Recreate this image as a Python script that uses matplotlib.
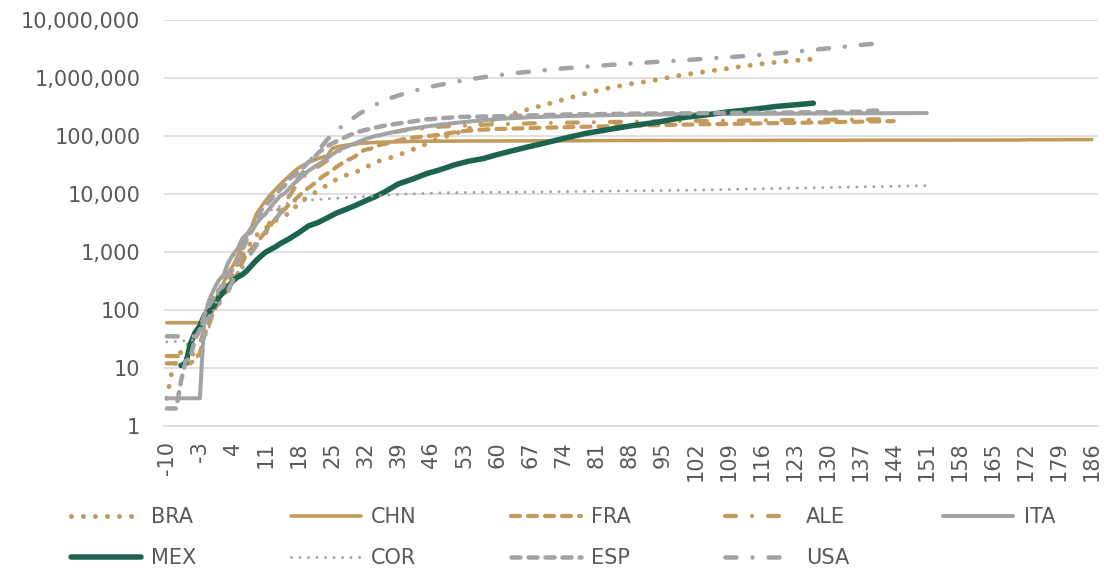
import matplotlib
matplotlib.use("Agg")
import matplotlib.pyplot as plt
from matplotlib.ticker import FixedLocator, NullLocator

plt.rcParams['font.family'] = ['DejaVu Sans']
plt.rcParams['lines.scale_dashes'] = False

# ---------------- data: (day, cumulative cases) ----------------
BRA = [(-10, 3), (-9, 8), (-8, 13), (-7, 19), (-6, 25), (-5, 25), (-4, 34), (-3, 52), (-2, 77), (-1, 98),
       (0, 121), (1, 200), (2, 234), (3, 291), (4, 428), (5, 621), (6, 904), (7, 1128), (8, 1546), (9, 1924),
       (10, 2247), (11, 2554), (12, 2985), (13, 3417), (14, 3904), (15, 4256), (16, 4579), (17, 5717),
       (18, 6836), (20, 9056), (22, 11130), (25, 15927), (27, 19638), (30, 23430), (32, 28320), (35, 36599),
       (38, 43079), (41, 52995), (44, 66501), (47, 85380), (52, 114715), (57, 162699), (62, 218223),
       (67, 291579), (72, 374898), (78, 514849), (83, 645771), (88, 772416), (93, 888271), (98, 1067579),
       (103, 1228114), (108, 1402041), (113, 1603055), (118, 1800827), (123, 1966748), (128, 2118646)]

CHN = [(-10, 60), (-3, 60), (-1, 62), (0, 121), (1, 198), (2, 291), (3, 440), (4, 571), (5, 830), (6, 1287),
       (7, 1975), (8, 2744), (9, 4515), (10, 5974), (11, 7711), (12, 9692), (13, 11791), (14, 14380),
       (15, 17205), (16, 20438), (17, 24324), (18, 28018), (19, 31161), (20, 34546), (21, 37198), (22, 40171),
       (23, 42638), (24, 44653), (25, 59804), (26, 63851), (27, 66492), (28, 68500), (29, 70548), (30, 72436),
       (31, 74185), (32, 74576), (33, 75465), (35, 76936), (38, 78064), (43, 79968), (52, 80778), (73, 81554),
       (90, 82692), (120, 83000), (150, 83600), (170, 84000), (173, 85000), (186, 85500)]

FRA = [(-10, 12), (-5, 12), (-4, 14), (-3, 18), (-2, 38), (-1, 57), (0, 100), (1, 130), (2, 191), (3, 212),
       (4, 285), (5, 423), (6, 653), (7, 949), (8, 1126), (9, 1412), (10, 1784), (11, 2281), (12, 2876),
       (13, 3661), (14, 4499), (15, 5423), (16, 6633), (17, 7730), (18, 9134), (19, 10995), (20, 12612),
       (21, 14459), (22, 16689), (23, 19856), (24, 22304), (25, 25233), (26, 29155), (27, 32964), (28, 37575),
       (29, 40174), (30, 44550), (31, 52128), (32, 56989), (33, 59105), (35, 68605), (37, 74390), (39, 82048),
       (41, 90276), (44, 96000), (48, 104000), (52, 118000), (56, 126000), (60, 130000), (70, 137000),
       (80, 143000), (90, 149000), (100, 155000), (115, 162000), (130, 170000), (144, 178000)]

ALE = [(-10, 16), (-5, 16), (-4, 18), (-3, 26), (-2, 48), (-1, 79), (0, 130), (1, 159), (2, 196), (3, 262),
       (4, 482), (5, 670), (6, 799), (7, 1040), (8, 1176), (9, 1457), (10, 1908), (11, 2078), (12, 3675),
       (13, 4585), (14, 5795), (15, 7272), (16, 9257), (17, 12327), (18, 15320), (19, 19848), (20, 22213),
       (21, 24873), (22, 29056), (23, 32986), (24, 37323), (25, 43938), (26, 50871), (27, 57695), (28, 62095),
       (29, 66885), (30, 71808), (32, 84794), (34, 96092), (36, 103375), (38, 113296), (40, 122171),
       (43, 130072), (48, 143342), (55, 152000), (61, 158000), (70, 165000), (80, 170000), (92, 175000),
       (106, 180000), (122, 185000), (137, 190000), (144, 192000)]

ITA = [(-10, 3), (-3, 3), (-2, 79), (-1, 150), (0, 229), (1, 322), (2, 400), (3, 650), (4, 888), (5, 1128),
       (6, 1694), (7, 2036), (8, 2502), (9, 3089), (10, 3858), (11, 4636), (12, 5883), (13, 7375), (14, 9172),
       (15, 10149), (16, 12462), (17, 15113), (18, 17660), (19, 21157), (20, 24747), (21, 27980), (22, 31506),
       (23, 35713), (24, 41035), (25, 47021), (26, 53578), (27, 59138), (28, 63927), (29, 69176), (30, 74386),
       (31, 80589), (32, 86498), (33, 92472), (34, 97689), (35, 101739), (37, 110574), (41, 128948),
       (46, 147577), (51, 165155), (56, 181228), (61, 195351), (67, 207428), (76, 218268), (86, 227364),
       (98, 233197), (112, 237290), (128, 240760), (142, 243506), (151, 245032)]

MEX = [(-7, 11), (-6, 12), (-5, 26), (-4, 41), (-3, 53), (-2, 82), (-1, 93), (0, 118), (1, 164), (2, 203),
       (3, 251), (4, 316), (5, 367), (6, 405), (7, 475), (8, 585), (9, 717), (10, 848), (11, 993), (12, 1094),
       (13, 1215), (14, 1378), (16, 1688), (18, 2143), (20, 2785), (22, 3181), (24, 3844), (26, 4661),
       (28, 5399), (30, 6297), (32, 7497), (34, 8772), (36, 10544), (39, 14677), (42, 17799), (45, 22088),
       (48, 26025), (51, 31522), (54, 36327), (57, 40186), (60, 47144), (63, 54346), (66, 62527), (69, 71105),
       (72, 81400), (75, 93435), (79, 110026), (84, 129184), (89, 150264), (94, 170485), (99, 202951),
       (104, 226089), (109, 256848), (114, 282283), (119, 317635), (124, 344224), (127, 362274)]

COR = [(-10, 28), (-2, 31), (-1, 51), (0, 104), (1, 204), (2, 433), (3, 602), (4, 833), (5, 977), (6, 1261),
       (7, 1766), (8, 2337), (9, 3150), (10, 3736), (11, 4335), (12, 5186), (13, 5621), (14, 6088), (15, 6593),
       (16, 7041), (17, 7313), (18, 7478), (19, 7513), (21, 7869), (24, 8162), (29, 8652), (34, 9137),
       (41, 9887), (50, 10450), (70, 10774), (101, 11503), (131, 12850), (151, 13771)]

ESP = [(-10, 2), (-8, 2), (-7, 6), (-6, 13), (-5, 15), (-4, 32), (-3, 45), (-2, 84), (-1, 120), (0, 165),
       (1, 222), (2, 259), (3, 400), (4, 500), (5, 673), (6, 1073), (7, 1695), (8, 2277), (9, 3146), (10, 5232),
       (11, 6391), (12, 7798), (13, 9942), (14, 11748), (15, 13910), (16, 17963), (17, 20410), (18, 25374),
       (19, 28768), (20, 35136), (21, 39885), (22, 49515), (23, 57786), (24, 65719), (25, 73235), (26, 80110),
       (27, 87956), (28, 95923), (29, 104118), (31, 119199), (33, 130759), (36, 148220), (40, 166019),
       (45, 190839), (52, 210000), (60, 215216), (74, 230183), (90, 239429), (105, 244109), (120, 249271),
       (130, 253908), (137, 258000), (139, 268000), (141, 272000)]

USA = [(-10, 35), (-4, 35), (-3, 53), (-2, 60), (-1, 75), (0, 100), (1, 124), (2, 158), (3, 221), (4, 319),
       (5, 435), (6, 541), (7, 704), (8, 994), (9, 1301), (10, 1630), (11, 2183), (12, 2770), (13, 3613),
       (14, 4596), (15, 6344), (16, 9197), (17, 13779), (18, 19367), (19, 24192), (20, 33592), (21, 43781),
       (22, 54856), (23, 68211), (24, 85435), (25, 104126), (26, 123578), (27, 142460), (28, 163788),
       (29, 188461), (31, 244000), (34, 337000), (37, 432000), (41, 555000), (46, 700000), (53, 905000),
       (57, 1010000), (64, 1200000), (74, 1440000), (86, 1700000), (100, 2000000), (115, 2420000),
       (125, 2890000), (135, 3500000), (142, 4000000)]

SERIES = ["BRA", "CHN", "FRA", "ALE", "ITA", "MEX", "COR", "ESP", "USA"]
SERIES_DATA = [BRA, CHN, FRA, ALE, ITA, MEX, COR, ESP, USA]
X_TICKS = list(range(-10, 187, 7))
Y_TICKS = [1, 10, 100, 1000, 10000, 100000, 1000000, 10000000]

# ---------------- styles ----------------
TAN = "#C39A5C"
GRAY = "#A3A3A3"
GREEN = "#1C6450"
PX = 0.72  # pixels -> points at dpi 100


def dpx(*vals):
    return tuple(v * PX for v in vals)


STYLES = {
    "BRA": dict(color=TAN, lw=5.0 * PX, dashes=dpx(0.01, 12), dash_capstyle="round"),
    "CHN": dict(color=TAN, lw=3.6 * PX, ls="-", solid_capstyle="round"),
    "FRA": dict(color=TAN, lw=4.2 * PX, dashes=dpx(9, 8), dash_capstyle="round"),
    "ALE": dict(color=TAN, lw=4.2 * PX, dashes=dpx(11, 16, 0.01, 16), dash_capstyle="round"),
    "ITA": dict(color=GRAY, lw=4.0 * PX, ls="-", solid_capstyle="round"),
    "MEX": dict(color=GREEN, lw=5.5 * PX, ls="-", solid_capstyle="round"),
    "COR": dict(color=GRAY, lw=3.0 * PX, dashes=dpx(0.01, 8.5), dash_capstyle="round"),
    "ESP": dict(color=GRAY, lw=4.5 * PX, dashes=dpx(9, 8), dash_capstyle="round"),
    "USA": dict(color=GRAY, lw=4.5 * PX, dashes=dpx(11, 16, 0.01, 16), dash_capstyle="round"),
}

W, H = 1104, 569
fig = plt.figure(figsize=(W / 100, H / 100), dpi=100)
ax = fig.add_axes([164 / W, 1 - 426 / H, (1098 - 164) / W, (426 - 19.5) / H])

TEXT_COLOR = "#595959"
GRID_COLOR = "#D9D9D9"
FS = 15

handles = {}
for name, data in zip(SERIES, SERIES_DATA):
    days = [d for d, v in data]
    vals = [v for d, v in data]
    (ln,) = ax.plot(days, vals, label=name, solid_joinstyle="round", **STYLES[name])
    handles[name] = ln

ax.set_yscale("log")
ax.set_ylim(1, 1e7)
ax.set_xlim(-10.6, 187.3)

ax.yaxis.set_major_locator(FixedLocator(Y_TICKS))
ax.yaxis.set_minor_locator(NullLocator())
ax.set_yticklabels([f"{v:,}" for v in Y_TICKS])
ax.xaxis.set_major_locator(FixedLocator(X_TICKS))
ax.xaxis.set_minor_locator(NullLocator())
ax.set_xticklabels([str(t) for t in X_TICKS], rotation=90)

ax.tick_params(axis="y", length=0, pad=17, labelsize=FS, labelcolor=TEXT_COLOR)
ax.tick_params(axis="x", length=0, pad=11, labelsize=FS, labelcolor=TEXT_COLOR)

ax.grid(axis="y", color=GRID_COLOR, lw=1.6 * PX)
ax.set_axisbelow(True)
for s in ["top", "right", "left"]:
    ax.spines[s].set_visible(False)
ax.spines["bottom"].set_color(GRID_COLOR)
ax.spines["bottom"].set_linewidth(1.6 * PX)

# legend laid out row by row (matplotlib fills columns first, so reorder)
ncol = 5
nrow = 2
order = []
for c in range(ncol):
    for r in range(nrow):
        i = r * ncol + c
        if i < len(SERIES):
            order.append(SERIES[i])
leg = fig.legend([handles[n] for n in order], order, loc="upper left",
                 bbox_to_anchor=(71 / W, 1 - 507 / H), ncol=ncol, frameon=False,
                 fontsize=FS, handlelength=3.36, handletextpad=0.5, columnspacing=4.52,
                 labelspacing=1.0, borderpad=0, borderaxespad=0)
for t in leg.get_texts():
    t.set_color(TEXT_COLOR)

fig.savefig("out.png", dpi=100)
